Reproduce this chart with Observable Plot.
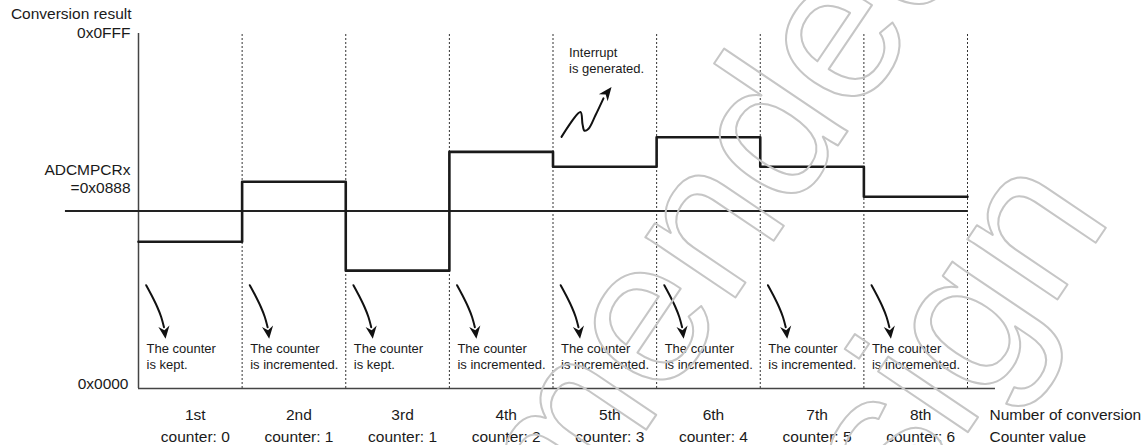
<!DOCTYPE html>
<html>
<head>
<meta charset="utf-8">
<script src="https://cdn.jsdelivr.net/npm/d3@7"></script>
<script src="https://cdn.jsdelivr.net/npm/@observablehq/plot@0.6"></script>
<style>
  html, body { margin: 0; padding: 0; background: #fff; }
</style>
</head>
<body>
<div id="chart"></div>
<script>
// ---- data ----
const conversions = ["1st", "2nd", "3rd", "4th", "5th", "6th", "7th", "8th"];
const counterValues = [0, 1, 1, 2, 3, 4, 5, 6];
const results = [1805, 2499, 1450, 2821, 2660, 2978, 2660, 2338]; // schematic conversion results
const outcomes = ["is kept.", "is incremented.", "is kept.", "is incremented.",
                  "is incremented.", "is incremented.", "is incremented.", "is incremented."];
const threshold = 0x0888;   // ADCMPCRx
const yMin = 0x0000;
const yMax = 0x0FFF;
const yLabels = ["0x0000", "0x0FFF"];
const interruptAt = 4;      // 5th conversion

// schematic (not-to-scale) axis: threshold drawn half-way up
const yTransform = v => v <= threshold
  ? v / threshold * (yMax / 2)
  : yMax / 2 + (v - threshold) / (yMax - threshold) * (yMax / 2);

// step points (step-after)
const stepPoints = results.map((v, i) => ({x: i, y: v})).concat([{x: results.length, y: results[results.length - 1]}]);

// ---- annotation geometry (data units, relative to each interval) ----
const curveArrow = [[0.074, 1271], [0.126, 1147], [0.181, 1003], [0.219, 880], [0.246, 753]];
const curveArrowTip = [0.261, 613];
const arrowLines = d3.range(8).flatMap(i => curveArrow.map(([dx, y]) => ({i, x: i + dx, y})));
const interruptPath = [[0.082, 2982], [0.265, 3250], [0.285, 3118], [0.304, 3048], [0.343, 3070], [0.410, 3215], [0.487, 3397]]
  .map(([dx, y]) => ({x: interruptAt + dx, y}));
const interruptTip = {x: interruptAt + 0.565, y: 3518};

function arrowHead(angleDeg, len, half, notch) {
  const a = angleDeg * Math.PI / 180, c = Math.cos(a), s = Math.sin(a);
  const pts = [[0, 0], [half, len], [0, notch], [-half, len]].map(([x, y]) => [x * c - y * s, x * s + y * c]);
  return {draw(ctx) { ctx.moveTo(pts[0][0], pts[0][1]); for (let k = 1; k < pts.length; ++k) ctx.lineTo(pts[k][0], pts[k][1]); ctx.closePath(); }};
}

const font = "'Liberation Sans', Arial, Helvetica, sans-serif";

const chart = Plot.plot({
  width: 1148,
  height: 445,
  marginLeft: 138,
  marginRight: 181,
  marginTop: 33,
  marginBottom: 57,
  x: {domain: [0, 8], axis: null},
  y: {domain: [yMin, yMax], transform: yTransform, axis: null},
  style: {fontFamily: font, fontSize: "15.5px", color: "#1a1a1a", background: "#fff"},
  marks: [
    // dotted separators
    Plot.ruleX(d3.range(1, 9), {y1: yMin, y2: yMax, stroke: "#333", strokeWidth: 1, strokeDasharray: "2,2"}),
    // axes
    Plot.ruleX([0], {y1: yMin, y2: yMax, stroke: "#444", strokeWidth: 1.5}),
    Plot.ruleY([yMin], {x1: 0, x2: 8.27, stroke: "#444", strokeWidth: 1.5}),
    // threshold
    Plot.ruleY([threshold], {x1: -0.705, x2: 8, stroke: "#222", strokeWidth: 2.2}),
    // conversion result step line
    Plot.line(stepPoints, {x: "x", y: "y", curve: "step-after", stroke: "#1a1a1a", strokeWidth: 2.6}),
    // curved arrows
    Plot.line(arrowLines, {x: "x", y: "y", z: "i", curve: "catmull-rom", stroke: "#111", strokeWidth: 2}),
    Plot.dot(d3.range(8), {x: d => d + curveArrowTip[0], y: curveArrowTip[1], symbol: arrowHead(172.5, 12.5, 5.6, 8.5), fill: "#111", stroke: "none"}),
    // interrupt arrow
    Plot.line(interruptPath, {x: "x", y: "y", curve: "catmull-rom", stroke: "#111", strokeWidth: 2}),
    Plot.dot([interruptTip], {x: "x", y: "y", symbol: arrowHead(38, 13.5, 5.6, 9.5), fill: "#111", stroke: "none"}),
    // annotations
    Plot.text(d3.range(8), {x: d => d, text: i => "The counter\n" + outcomes[i], frameAnchor: "bottom", dx: 8, dy: -20,
      textAnchor: "start", lineAnchor: "bottom", lineHeight: 1.23, fontSize: 13}),
    Plot.text(["Interrupt\nis generated."], {x: interruptAt, y: yMax, dx: 16, dy: 39, textAnchor: "start",
      lineAnchor: "bottom", lineHeight: 1.2, fontSize: 13}),
    // x labels
    Plot.text(d3.range(8), {x: d => d + 0.5, text: i => conversions[i] + "\ncounter: " + counterValues[i],
      frameAnchor: "bottom", dx: 5, dy: 53, lineAnchor: "bottom", lineHeight: 1.42}),
    Plot.text(["Number of conversion\nCounter value"], {frameAnchor: "bottom-right", dx: 22, dy: 53, textAnchor: "start",
      lineAnchor: "bottom", lineHeight: 1.42}),
    // y labels
    Plot.text([yMax], {y: d => d, text: ["Conversion result"], frameAnchor: "left", dx: -7, dy: -19, textAnchor: "end"}),
    Plot.text([yMax], {y: d => d, text: [yLabels[1]], frameAnchor: "left", dx: -8, textAnchor: "end"}),
    Plot.text([yMin], {y: d => d, text: [yLabels[0]], frameAnchor: "left", dx: -10, dy: -4.5, textAnchor: "end"}),
    Plot.text([threshold], {y: d => d, text: ["ADCMPCRx\n=0x" + threshold.toString(16).toUpperCase().padStart(4, "0")],
      frameAnchor: "left", dx: -8, dy: -18, textAnchor: "end", lineAnchor: "bottom", lineHeight: 1.16}),
    // watermark
    Plot.text(["Not recommended"], {frameAnchor: "top-left", dx: 372.6, dy: 596.7, rotate: -56, fontSize: 205,
      textAnchor: "middle", lineAnchor: "bottom", fill: "none", stroke: "#c6c6c6", strokeWidth: 2}),
    Plot.text(["for new design"], {frameAnchor: "top-left", dx: 602, dy: 735.8, rotate: -56, fontSize: 205,
      textAnchor: "middle", lineAnchor: "bottom", fill: "none", stroke: "#c6c6c6", strokeWidth: 2})
  ]
});
document.getElementById("chart").appendChild(chart);
</script>
</body>
</html>
